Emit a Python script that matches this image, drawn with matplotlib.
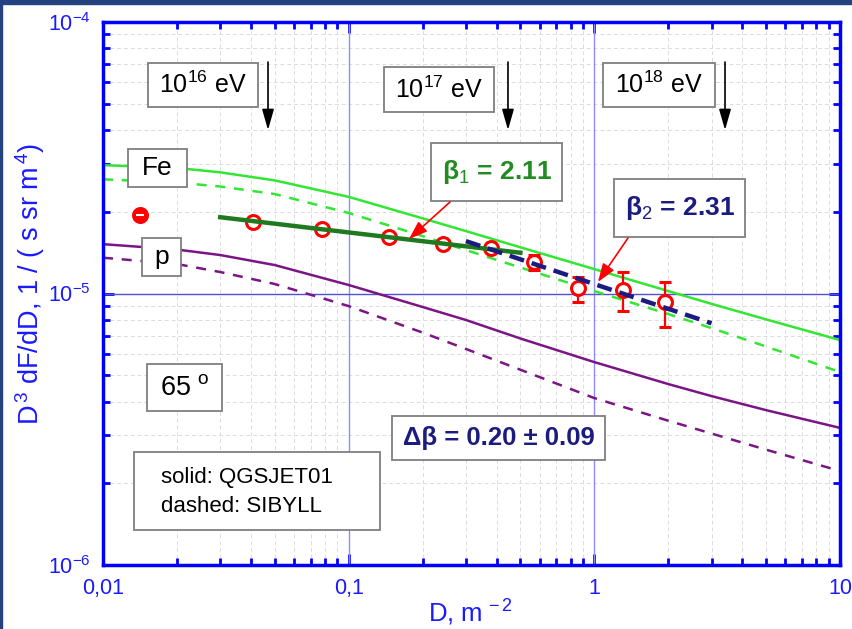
import matplotlib
matplotlib.use('Agg')
import matplotlib.pyplot as plt
from matplotlib.patches import Rectangle
from matplotlib.ticker import LogLocator, NullFormatter

plt.rcParams['font.family'] = ['Liberation Sans', 'DejaVu Sans']
plt.rcParams['mathtext.fontset'] = 'custom'
plt.rcParams['mathtext.rm'] = 'Liberation Sans'
plt.rcParams['mathtext.it'] = 'Liberation Sans:italic'
plt.rcParams['mathtext.bf'] = 'Liberation Sans:bold'

# model curves (solid: QGSJET01, dashed: SIBYLL)
D_model = [0.01, 0.02, 0.03, 0.05, 0.1, 0.2, 0.3, 0.5, 1, 2, 3, 5, 10]
fe_qgs = [2.97e-5, 2.90e-5, 2.795e-5, 2.61e-5, 2.27e-5, 1.892e-5, 1.698e-5,
          1.48e-5, 1.23e-5, 1.021e-5, 9.16e-6, 8.03e-6, 6.74e-6]
fe_sib = [2.634e-5, 2.563e-5, 2.478e-5, 2.325e-5, 1.98e-5, 1.628e-5, 1.446e-5,
          1.247e-5, 1.021e-5, 8.40e-6, 7.46e-6, 6.38e-6, 5.14e-6]
p_qgs = [1.52e-5, 1.452e-5, 1.386e-5, 1.273e-5, 1.075e-5, 8.92e-6, 7.99e-6,
         6.83e-6, 5.59e-6, 4.64e-6, 4.19e-6, 3.72e-6, 3.20e-6]
p_sib = [1.355e-5, 1.284e-5, 1.20e-5, 1.084e-5, 8.99e-6, 7.18e-6, 6.25e-6,
         5.24e-6, 4.12e-6, 3.40e-6, 3.05e-6, 2.66e-6, 2.22e-6]

# power-law fits
fit1_D = [0.03, 0.5]
fit1_F = [1.91e-5, 1.413e-5]
fit2_D = [0.3, 3.0]
fit2_F = [1.56e-5, 7.77e-6]

# measured points
D_data = [0.0141, 0.0408, 0.0779, 0.146, 0.242, 0.380, 0.568, 0.857, 1.306, 1.94]
F_data = [1.95e-5, 1.83e-5, 1.73e-5, 1.615e-5, 1.52e-5, 1.47e-5, 1.31e-5, 1.05e-5, 1.03e-5, 9.3e-6]
F_hi = [1.95e-5, 1.83e-5, 1.73e-5, 1.615e-5, 1.52e-5, 1.47e-5, 1.39e-5, 1.15e-5, 1.20e-5, 1.105e-5]
F_lo = [1.95e-5, 1.83e-5, 1.73e-5, 1.615e-5, 1.52e-5, 1.47e-5, 1.22e-5, 9.3e-6, 8.6e-6, 7.5e-6]

xticks = [0.01, 0.1, 1, 10]
xticklabels = ['0,01', '0,1', '1', '10']
yticks = [1e-6, 1e-5, 1e-4]
yticklabels = ['$10^{-6}$', '$10^{-5}$', '$10^{-4}$']

blue = '#0000ff'
green = '#33e633'
purple = '#7b1585'
navy = '#1c1c80'

fig = plt.figure(figsize=(8.52, 6.29), dpi=100)
fig.patch.set_facecolor('white')
fig.patches.append(Rectangle((0, 1 - 4 / 629), 1, 4 / 629, transform=fig.transFigure,
                             color='#24427f', zorder=0))
fig.patches.append(Rectangle((0, 0), 2 / 852, 1, transform=fig.transFigure,
                             color='#24427f', zorder=0))

ax = fig.add_axes([0.1209, 0.1017, 0.8650, 0.8633])
ax.set_xscale('log')
ax.set_yscale('log')
ax.set_xlim(0.01, 10)
ax.set_ylim(1e-6, 1e-4)

ax.grid(True, which='both', ls=(0, (4, 3)), color='#dcdcdc', lw=0.7, zorder=0)
ax.set_axisbelow(True)

ax.axvline(0.1, color='#8c8cff', lw=1, zorder=1)
ax.axvline(1, color='#8c8cff', lw=1, zorder=1)
ax.axhline(1e-5, color='#5050d8', lw=1, zorder=1)

ax.plot(D_model, fe_qgs, color=green, lw=1.8, zorder=2)
ax.plot(D_model, fe_sib, color=green, lw=1.8, ls=(0, (4, 3.5)), zorder=2)
ax.plot(D_model, p_qgs, color=purple, lw=1.8, zorder=2)
ax.plot(D_model, p_sib, color=purple, lw=1.8, ls=(0, (4, 3.5)), zorder=2)

yerr = [[f - l for f, l in zip(F_data, F_lo)], [h - f for f, h in zip(F_data, F_hi)]]
ax.errorbar(D_data, F_data, yerr=yerr, fmt='o', mfc='white', mec='red', ecolor='red',
            mew=2.2, ms=10, capsize=4.5, elinewidth=1.6, capthick=1.6, zorder=3)
ax.plot(D_data[0], F_data[0], 'o', mfc='red', mec='red', ms=10, zorder=6)
ax.plot(D_data[0], F_data[0], '_', color='white', ms=6, mew=1.5, zorder=6)

ax.plot(fit1_D, fit1_F, color='#1f7a1f', lw=3.2, zorder=4)
ax.plot(fit2_D, fit2_F, color=navy, lw=3.2, ls=(0, (3.4, 1.8)), zorder=4)

ax.set_xticks(xticks)
ax.set_xticklabels(xticklabels)
ax.set_yticks(yticks)
ax.set_yticklabels(yticklabels)
ax.xaxis.set_minor_locator(LogLocator(base=10, subs=range(2, 10)))
ax.yaxis.set_minor_locator(LogLocator(base=10, subs=range(2, 10)))
ax.xaxis.set_minor_formatter(NullFormatter())
ax.yaxis.set_minor_formatter(NullFormatter())
ax.tick_params(which='both', direction='in', top=True, right=True, color=blue,
               width=2, labelcolor='#1a1aff', labelsize=15.5, pad=9)
ax.tick_params(which='major', length=8)
ax.tick_params(which='minor', length=5)
for s in ax.spines.values():
    s.set_color(blue)
    s.set_linewidth(2.5)

ax.set_xlabel('D, m$^{\\,-2}$', color='#1a1aff', fontsize=18.5, va='center')
ax.xaxis.set_label_coords(0.498, -0.088)
ax.set_ylabel('D$^{\\,3}$ dF/dD, 1 / ( s sr m$^{\\,4}$)', color='#1a1aff', fontsize=19.5,
              va='center')
ax.yaxis.set_label_coords(-0.099, 0.517)


def box(x0, y0, x1, y1, text, **kw):
    ax.add_patch(Rectangle((x0, y0), x1 - x0, y1 - y0, transform=ax.transAxes,
                           fc='white', ec='#7f7f7f', lw=1.3, zorder=6))
    ax.text((x0 + x1) / 2, (y0 + y1) / 2, text, transform=ax.transAxes,
            ha='center', va='center', zorder=7, **kw)


box(0.0611, 0.8435, 0.2103, 0.9245, '10$^{16}$ eV', fontsize=18)
box(0.3813, 0.8343, 0.5305, 0.9171, '10$^{17}$ eV', fontsize=18)
box(0.6784, 0.8435, 0.8304, 0.9245, '10$^{18}$ eV', fontsize=18)
box(0.0339, 0.6961, 0.1140, 0.7661, 'Fe', fontsize=19)
box(0.0529, 0.5322, 0.1058, 0.6022, 'p', fontsize=19)
box(0.4450, 0.6703, 0.6228, 0.7772, 'β$_1$ = 2.11', fontsize=19,
    fontweight='bold', color='#228b22')
box(0.6934, 0.6041, 0.8711, 0.7109, 'β$_2$ = 2.31', fontsize=19,
    fontweight='bold', color=navy)
box(0.0597, 0.2836, 0.1615, 0.3702, '65 $^{\\mathrm{o}}$', fontsize=19.5)
box(0.3921, 0.1934, 0.6811, 0.2744, 'Δβ = 0.20 ± 0.09', fontsize=18.5,
    fontweight='bold', color=navy)
box(0.0421, 0.0645, 0.3758, 0.2081, '', fontsize=15)
ax.text(0.0787, 0.162, 'solid: QGSJET01', transform=ax.transAxes, fontsize=16,
        ha='left', va='center', zorder=7)
ax.text(0.0787, 0.107, 'dashed: SIBYLL', transform=ax.transAxes, fontsize=16,
        ha='left', va='center', zorder=7)

for xa in [0.2239, 0.5495, 0.8440]:
    ax.annotate('', xy=(xa, 0.8011), xytext=(xa, 0.9263), xycoords='axes fraction',
                arrowprops=dict(arrowstyle='-|>,head_length=0.7,head_width=0.2',
                                color='black', lw=1.2, mutation_scale=18,
                                shrinkA=0, shrinkB=0), zorder=7)

red_arrow = dict(arrowstyle='-|>,head_length=0.7,head_width=0.25', color='red', lw=1.2,
                 mutation_scale=16, shrinkA=0, shrinkB=0)
ax.annotate('', xy=(0.4152, 0.6004), xytext=(0.4708, 0.6685), xycoords='axes fraction',
            arrowprops=red_arrow, zorder=7)
ax.annotate('', xy=(0.6716, 0.5212), xytext=(0.7123, 0.6022), xycoords='axes fraction',
            arrowprops=red_arrow, zorder=7)

fig.savefig('out.png', dpi=100)
